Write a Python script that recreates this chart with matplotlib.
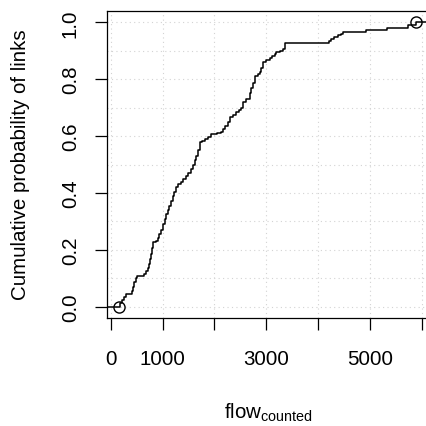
import matplotlib
matplotlib.use("Agg")
import matplotlib.pyplot as plt

# Step points of the ECDF (flow, cumulative probability)
flow_steps = [160, 185, 220, 265, 300, 415, 425, 450, 480, 500,
              645, 680, 720, 735, 750, 770, 790, 815, 870, 911,
              940, 970, 1008, 1040, 1070, 1100, 1124, 1160, 1201, 1225,
              1253, 1300, 1362, 1400, 1459, 1500, 1555, 1590, 1619, 1651,
              1680, 1715, 1760, 1811, 1880, 1940, 2040, 2133, 2164, 2200,
              2260, 2293, 2360, 2422, 2480, 2518, 2549, 2610, 2679, 2710,
              2743, 2775, 2830, 2871, 2904, 2935, 3000, 3064, 3110, 3160,
              3193, 3260, 3320, 3353, 4207, 4250, 4300, 4380, 4430, 4476,
              4926, 5324, 5729, 5890]
cum_prob = [0.0, 0.012, 0.025, 0.035, 0.045, 0.055, 0.07, 0.085, 0.1, 0.106,
            0.115, 0.125, 0.135, 0.15, 0.168, 0.185, 0.205, 0.227, 0.232, 0.24,
            0.255, 0.27, 0.29, 0.31, 0.325, 0.34, 0.355, 0.37, 0.39, 0.405,
            0.42, 0.43, 0.437, 0.448, 0.461, 0.47, 0.484, 0.5, 0.515, 0.531,
            0.55, 0.578, 0.584, 0.59, 0.598, 0.607, 0.61, 0.615, 0.625, 0.635,
            0.648, 0.666, 0.675, 0.683, 0.69, 0.7, 0.72, 0.73, 0.75, 0.77,
            0.788, 0.812, 0.82, 0.826, 0.841, 0.859, 0.866, 0.876, 0.882, 0.888,
            0.896, 0.9, 0.905, 0.926, 0.935, 0.94, 0.947, 0.954, 0.96, 0.965,
            0.973, 0.981, 0.989, 1.0]

x_ticks = [0, 1000, 2000, 3000, 4000, 5000, 6000]
x_labels = ["0", "1000", "", "3000", "", "5000", ""]
y_ticks = [0.0, 0.2, 0.4, 0.6, 0.8, 1.0]
y_labels = ["0.0", "0.2", "0.4", "0.6", "0.8", "1.0"]

plt.rcParams['font.family'] = ['Liberation Sans', 'DejaVu Sans']
plt.rcParams['mathtext.fontset'] = 'custom'
plt.rcParams['mathtext.rm'] = 'Liberation Sans'

fig = plt.figure(figsize=(4.27, 4.27), dpi=100)
ax = fig.add_axes([107 / 427, 1 - 319 / 427, 321.3 / 427, 307 / 427])

span = flow_steps[-1] - flow_steps[0]
xlo = flow_steps[0] - 0.04 * span
xhi = flow_steps[-1] + 0.04 * span
ax.set_xlim(xlo, xhi)
ax.set_ylim(-0.04, 1.04)

# grid
for gx in range(0, 7000, 1000):
    ax.axvline(gx, color='lightgray', ls=(0, (1, 3)), lw=0.8, zorder=0)
for i in range(11):
    ax.axhline(i / 10, color='lightgray', ls=(0, (1, 3)), lw=0.8, zorder=0)

xs = [xlo] + flow_steps + [xhi]
ys = [cum_prob[0]] + cum_prob + [cum_prob[-1]]
ax.step(xs, ys, where='post', color='black', lw=1.1)
ax.plot([flow_steps[0], flow_steps[-1]], [cum_prob[0], cum_prob[-1]], 'o',
        mfc='none', mec='black', ms=8, mew=1.0)

ax.set_xticks(x_ticks)
ax.set_xticklabels(x_labels)
ax.set_yticks(y_ticks)
ax.set_yticklabels(y_labels, rotation=90, va='center')
ax.tick_params(length=8.6, width=0.9, labelsize=14.8, color='black')
ax.tick_params(axis='x', pad=14)
ax.tick_params(axis='y', pad=11)
for s in ax.spines.values():
    s.set_linewidth(0.9)

fig.text(268 / 427, 1 - 413 / 427, r'$\mathrm{flow}_{\mathrm{counted}}$',
         ha='center', va='center', fontsize=14.8)
fig.text(21 / 427, 1 - 165 / 427, 'Cumulative probability of links',
         rotation=90, ha='center', va='center', fontsize=14.8)

fig.savefig('out.png', dpi=100)
